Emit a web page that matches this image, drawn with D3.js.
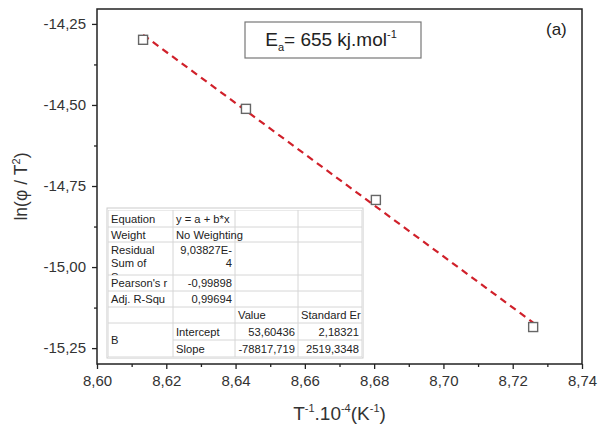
<!DOCTYPE html>
<html>
<head>
<meta charset="utf-8">
<script src="https://cdn.jsdelivr.net/npm/d3@7"></script>
<style>
  html, body { margin: 0; padding: 0; background: #fff; }
  svg { display: block; font-family: "Liberation Sans", Arial, sans-serif; }
</style>
</head>
<body>
<svg id="chart" width="598" height="429"></svg>
<script>
// Measured points: inverse temperature (x 10^-4 K^-1) vs ln(phi / T^2)
const invT = [8.6133, 8.6430, 8.6805, 8.7259];
const lnPhiT2 = [-14.299, -14.512, -14.793, -15.185];

// Linear fit parameters (x in K^-1)
const fitIntercept = 53.60436;
const fitSlope = -78817.719;

const xTicks = [8.60, 8.62, 8.64, 8.66, 8.68, 8.70, 8.72, 8.74];
const yTicks = [-14.25, -14.50, -14.75, -15.00, -15.25];

// Fit statistics table rows
const tableRows = [
  ["Equation", "y = a + b*x", "", ""],
  ["Weight", "No Weighting", "", ""],
  ["Residual\nSum of\nSquares", "9,03827E-\n4", "", ""],
  ["Pearson's r", "-0,99898", "", ""],
  ["Adj. R-Squ", "0,99694", "", ""],
  ["", "", "Value", "Standard Er"],
  ["B", "Intercept", "53,60436", "2,18321"],
  ["", "Slope", "-78817,719", "2519,3348"]
];

const svg = d3.select("#chart");
const margin = { left: 97, right: 16, top: 9, bottom: 65 };
const W = 598, H = 429;

const x = d3.scaleLinear().domain([8.60, 8.74]).range([margin.left, W - margin.right]);
const y = d3.scaleLinear().domain([-15.299, -14.204]).range([H - margin.bottom, margin.top]);

const fmt = d => d3.format(".2f")(d).replace(".", ",").replace("\u2212", "-");
const axisColor = "#222";

// Frame
svg.append("rect")
  .attr("x", x(8.60)).attr("y", y.range()[1])
  .attr("width", x(8.74) - x(8.60)).attr("height", y.range()[0] - y.range()[1])
  .attr("fill", "none").attr("stroke", axisColor).attr("stroke-width", 1.5);

// Bottom axis
const xAxis = svg.append("g").attr("transform", `translate(0,${y.range()[0]})`)
  .call(d3.axisBottom(x).tickValues(xTicks).tickFormat(fmt).tickSize(5).tickPadding(6));
const xMinor = svg.append("g").attr("transform", `translate(0,${y.range()[0]})`)
  .call(d3.axisBottom(x).tickValues(xTicks.slice(0, -1).map(v => v + 0.01)).tickFormat("").tickSize(3));

// Left axis
const yAxis = svg.append("g").attr("transform", `translate(${x.range()[0]},0)`)
  .call(d3.axisLeft(y).tickValues(yTicks).tickFormat(fmt).tickSize(5).tickPadding(6));
const yMinor = svg.append("g").attr("transform", `translate(${x.range()[0]},0)`)
  .call(d3.axisLeft(y).tickValues(yTicks.slice(0, -1).map(v => v - 0.125)).tickFormat("").tickSize(3));

[xAxis, xMinor, yAxis, yMinor].forEach(g => {
  g.select(".domain").remove();
  g.selectAll(".tick line").attr("stroke", axisColor).attr("stroke-width", 1.3);
  g.selectAll(".tick text").attr("fill", "#333").attr("font-size", 15)
    .attr("font-family", "'Liberation Sans', Arial, sans-serif");
});

// Axis titles
const yTitle = svg.append("text")
  .attr("transform", `translate(27,${(y.range()[0] + y.range()[1]) / 2}) rotate(-90)`)
  .attr("text-anchor", "middle").attr("font-size", 17.5).attr("fill", "#333");
yTitle.append("tspan").text("ln(φ / T");
yTitle.append("tspan").attr("font-size", 11).attr("dy", -7).text("2");
yTitle.append("tspan").attr("dy", 7).text(")");

const xTitle = svg.append("text")
  .attr("x", (x.range()[0] + x.range()[1]) / 2).attr("y", 420)
  .attr("text-anchor", "middle").attr("font-size", 19).attr("fill", "#333");
xTitle.append("tspan").text("T");
xTitle.append("tspan").attr("font-size", 11).attr("dy", -8).text("-1");
xTitle.append("tspan").attr("dy", 8).text(".10");
xTitle.append("tspan").attr("font-size", 11).attr("dy", -8).text("-4");
xTitle.append("tspan").attr("dy", 8).text("(K");
xTitle.append("tspan").attr("font-size", 11).attr("dy", -8).text("-1");
xTitle.append("tspan").attr("dy", 8).text(")");

// Fit statistics table
const colX = [108, 173, 235, 298, 362];
const rowY = [210, 227, 242, 275, 291, 307, 323, 340, 357];
const tbl = svg.append("g").attr("font-size", 11.2).attr("fill", "#222");
tbl.append("rect").attr("x", colX[0] - 1).attr("y", rowY[0] - 2)
  .attr("width", colX[4] - colX[0] + 2).attr("height", rowY[8] - rowY[0] + 3)
  .attr("fill", "#fff").attr("stroke", "#ccc");
const defs = svg.append("defs");
const clip = defs.append("clipPath").attr("id", "tblclip");
clip.append("rect").attr("x", colX[0]).attr("y", rowY[0]).attr("width", colX[4] - colX[0]).attr("height", rowY[8] - rowY[0]);
const cells = tbl.append("g").attr("clip-path", "url(#tblclip)");
// grid lines
rowY.forEach((ry, i) => {
  const x0 = (i === 7) ? colX[1] : colX[0];
  cells.append("line").attr("x1", x0).attr("x2", colX[4]).attr("y1", ry).attr("y2", ry)
    .attr("stroke", "#d6d6d6");
});
colX.forEach(cx => {
  cells.append("line").attr("x1", cx).attr("x2", cx).attr("y1", rowY[0]).attr("y2", rowY[8])
    .attr("stroke", "#d6d6d6");
});
const rightAligned = (r, c) => (c === 1 && (r === 2 || r === 3 || r === 4)) || (c >= 2 && r >= 6);
// cells whose text may spill into the empty neighbour
const spills = (r, c) => r === 1 && c === 1;
tableRows.forEach((row, r) => {
  row.forEach((txt, c) => {
    if (!txt) return;
    const lines = txt.split("\n");
    let top = rowY[r], bot = rowY[r + 1];
    if (r === 6 && c === 0) bot = rowY[8];
    const ra = rightAligned(r, c);
    const lh = 13.5;
    const startY = (lines.length === 1) ? (top + bot) / 2 + 4 : top + 11.5;
    const t = cells.append("text").attr("text-anchor", ra ? "end" : "start");
    if (!spills(r, c)) {
      const cellClip = defs.append("clipPath").attr("id", `cell${r}_${c}`);
      cellClip.append("rect").attr("x", colX[c]).attr("y", top).attr("width", colX[c + 1] - colX[c]).attr("height", bot - top);
      t.attr("clip-path", `url(#cell${r}_${c})`);
    }
    lines.forEach((ln, i) => {
      t.append("tspan").attr("x", ra ? colX[c + 1] - 3 : colX[c] + 3)
        .attr("y", startY + i * lh).text(ln);
    });
  });
});

// Linear fit line
const fitLine = invT.map(v => [v, fitIntercept + fitSlope * v * 1e-4]);
svg.append("path")
  .datum([fitLine[0], fitLine[fitLine.length - 1]])
  .attr("d", d3.line().x(d => x(d[0])).y(d => y(d[1])))
  .attr("fill", "none").attr("stroke", "#d0202a").attr("stroke-width", 2.2)
  .attr("stroke-dasharray", "7,5");

// Data markers
svg.append("g").selectAll("rect").data(invT).join("rect")
  .attr("x", (d, i) => x(d) - 4.5).attr("y", (d, i) => y(lnPhiT2[i]) - 4.5)
  .attr("width", 9).attr("height", 9)
  .attr("fill", "#fff").attr("stroke", "#666").attr("stroke-width", 1.4);

// Activation energy label
svg.append("rect").attr("x", 245).attr("y", 22).attr("width", 176).attr("height", 36)
  .attr("fill", "#fff").attr("stroke", "#777").attr("stroke-width", 1.2);
const ea = svg.append("text").attr("x", 331).attr("y", 46).attr("text-anchor", "middle")
  .attr("font-size", 19).attr("fill", "#222");
ea.append("tspan").text("E");
ea.append("tspan").attr("font-size", 11).attr("dy", 5).text("a");
ea.append("tspan").attr("dy", -5).text("= 655 kj.mol");
ea.append("tspan").attr("font-size", 11).attr("dy", -8).text("-1");

svg.append("text").attr("x", 546).attr("y", 35).attr("font-size", 17).attr("fill", "#222").text("(a)");
</script>
</body>
</html>
